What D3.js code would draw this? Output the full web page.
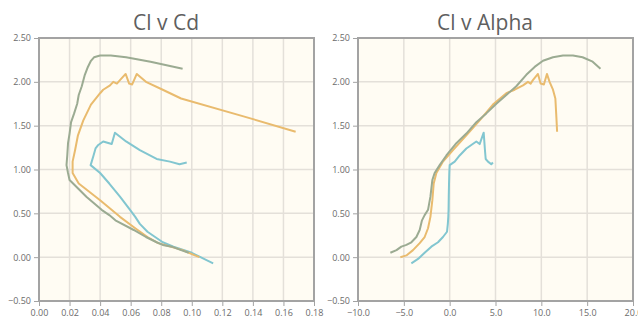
<!DOCTYPE html>
<html>
<head>
<meta charset="utf-8">
<script src="https://cdn.jsdelivr.net/npm/d3@7"></script>
<style>
  body { margin: 0; background: #fff; }
  text { font-family: "Open Sans", sans-serif; }
</style>
</head>
<body>
<script>

// series: alpha (deg), Cl, Cd  -- one entry per polar point
const tealAlpha = [-4.18, -3.45, -2.73, -2.00, -1.27, -0.73, -0.29, -0.20, -0.15, -0.12, -0.10, -0.07, -0.04, 0.00, 0.55, 1.09, 1.82, 2.36, 2.91, 3.27, 3.71, 3.78, 3.85, 3.93, 4.18, 4.54, 4.72];
const tealCl    = [-0.07, -0.02, 0.05, 0.12, 0.17, 0.23, 0.29, 0.38, 0.46, 0.54, 0.69, 0.84, 0.96, 1.05, 1.09, 1.16, 1.24, 1.28, 1.32, 1.29, 1.42, 1.32, 1.22, 1.12, 1.09, 1.06, 1.08];
const tealCd    = [0.114, 0.108, 0.100, 0.088, 0.081, 0.076, 0.071, 0.066, 0.063, 0.0596, 0.053, 0.046, 0.040, 0.0338, 0.0345, 0.0357, 0.037, 0.0388, 0.042, 0.0476, 0.0497, 0.057, 0.066, 0.077, 0.0857, 0.092, 0.0967];

const orangeAlpha = [-5.38, -4.72, -4.00, -3.27, -2.73, -2.36, -2.10, -1.89, -1.74, -1.45, -0.73, 0.36, 1.82, 3.27, 4.72, 6.18, 7.09, 8.00, 8.54, 8.83, 9.08, 9.63, 9.92, 10.28, 10.61, 10.90, 11.27, 11.53, 11.64, 11.72];
const orangeCl    = [0.00, 0.02, 0.08, 0.16, 0.23, 0.33, 0.46, 0.65, 0.84, 0.96, 1.09, 1.22, 1.39, 1.56, 1.74, 1.87, 1.91, 1.96, 2.00, 1.98, 2.02, 2.09, 1.98, 1.97, 2.09, 2.00, 1.91, 1.81, 1.60, 1.43];
const orangeCd    = [0.105, 0.102, 0.094, 0.078, 0.071, 0.063, 0.053, 0.040, 0.026, 0.022, 0.022, 0.0236, 0.0255, 0.029, 0.034, 0.040, 0.042, 0.0465, 0.0486, 0.051, 0.053, 0.0567, 0.059, 0.061, 0.064, 0.070, 0.081, 0.093, 0.135, 0.168];

const greenAlpha = [-6.47, -5.80, -5.27, -4.72, -4.18, -3.63, -3.27, -3.02, -2.73, -2.36, -2.10, -1.89, -1.64, -1.09, -0.36, 0.73, 1.82, 2.91, 4.00, 5.09, 6.18, 7.27, 8.36, 9.27, 10.18, 11.27, 12.36, 13.45, 14.50, 15.60, 16.45];
const greenCl    = [0.05, 0.08, 0.12, 0.14, 0.17, 0.23, 0.31, 0.42, 0.48, 0.54, 0.69, 0.88, 0.96, 1.05, 1.16, 1.30, 1.41, 1.54, 1.64, 1.75, 1.85, 1.95, 2.08, 2.17, 2.24, 2.28, 2.30, 2.30, 2.28, 2.23, 2.15];
const greenCd    = [0.098, 0.093, 0.087, 0.081, 0.077, 0.070, 0.062, 0.050, 0.046, 0.041, 0.031, 0.020, 0.019, 0.018, 0.0185, 0.019, 0.020, 0.021, 0.023, 0.025, 0.026, 0.028, 0.030, 0.032, 0.034, 0.036, 0.040, 0.047, 0.057, 0.073, 0.094];

const cdTicks    = [0, 0.02, 0.04, 0.06, 0.08, 0.10, 0.12, 0.14, 0.16, 0.18];
const alphaTicks = [-10, -5, 0, 5, 10, 15, 20];
const clTicks    = [-0.5, 0, 0.5, 1.0, 1.5, 2.0, 2.5];

const series = [
  { color: '#82c6d0', alpha: tealAlpha, cl: tealCl, cd: tealCd },
  { color: '#e9bb6e', alpha: orangeAlpha, cl: orangeCl, cd: orangeCd },
  { color: '#9bab92', alpha: greenAlpha, cl: greenCl, cd: greenCd }
];

const width = 638;
const height = 320;

const svg = d3.select('body')
  .append('svg')
  .attr('width', width)
  .attr('height', height);

function chart(opts) {
  const x = d3.scaleLinear()
    .domain(d3.extent(opts.xTicks))
    .range([opts.left, opts.right]);
  const y = d3.scaleLinear()
    .domain(d3.extent(clTicks))
    .range([301, 38]);

  const g = svg.append('g');

  g.append('text')
    .attr('x', opts.titleX)
    .attr('y', 30)
    .attr('text-anchor', 'middle')
    .attr('font-size', 21)
    .attr('fill', '#5f5f5f')
    .text(opts.title);

  g.append('rect')
    .attr('x', opts.left)
    .attr('y', 38)
    .attr('width', opts.right - opts.left)
    .attr('height', 263)
    .attr('fill', '#fffcf3');

  // grid
  g.selectAll('.gx')
    .data(opts.xTicks.slice(1, -1))
    .enter()
    .append('line')
    .attr('x1', d => x(d)).attr('x2', d => x(d))
    .attr('y1', 38).attr('y2', 301)
    .attr('stroke', '#e4e0d9')
    .attr('stroke-width', 1.5);
  g.selectAll('.gy')
    .data(clTicks.slice(1, -1))
    .enter()
    .append('line')
    .attr('x1', opts.left).attr('x2', opts.right)
    .attr('y1', d => y(d)).attr('y2', d => y(d))
    .attr('stroke', '#e4e0d9')
    .attr('stroke-width', 1.5);

  const line = d3.line()
    .x(d => x(d[0]))
    .y(d => y(d[1]));

  series.forEach(s => {
    const pts = s[opts.xKey].map((v, i) => [v, s.cl[i]]);
    g.append('path')
      .datum(pts)
      .attr('fill', 'none')
      .attr('stroke', s.color)
      .attr('stroke-width', 2)
      .attr('stroke-linejoin', 'round')
      .attr('d', line);
  });

  g.append('rect')
    .attr('x', opts.left)
    .attr('y', 38)
    .attr('width', opts.right - opts.left)
    .attr('height', 263)
    .attr('fill', 'none')
    .attr('stroke', '#a3a3a3')
    .attr('stroke-width', 2);

  const xAxis = d3.axisBottom(x)
    .tickValues(opts.xTicks)
    .tickSize(4)
    .tickPadding(4)
    .tickFormat(d3.format(opts.xFormat));
  const yAxis = d3.axisLeft(y)
    .tickValues(clTicks)
    .tickSize(4)
    .tickPadding(3)
    .tickFormat(d3.format('.2f'));

  const ax = g.append('g')
    .attr('transform', 'translate(0,302)')
    .call(xAxis);
  const ay = g.append('g')
    .attr('transform', 'translate(' + (opts.left - 1) + ',0)')
    .call(yAxis);

  [ax, ay].forEach(a => {
    a.select('.domain').remove();
    a.selectAll('line').attr('stroke', '#a3a3a3');
    a.selectAll('text')
      .attr('fill', '#6b6b6b')
      .attr('font-size', 9)
      .attr('font-family', '"Open Sans", sans-serif');
  });
}

chart({ title: 'Cl v Cd', titleX: 166, left: 39, right: 314, xTicks: cdTicks, xKey: 'cd', xFormat: '.2f' });
chart({ title: 'Cl v Alpha', titleX: 485, left: 358, right: 633, xTicks: alphaTicks, xKey: 'alpha', xFormat: '.1f' });

</script>
</body>
</html>
